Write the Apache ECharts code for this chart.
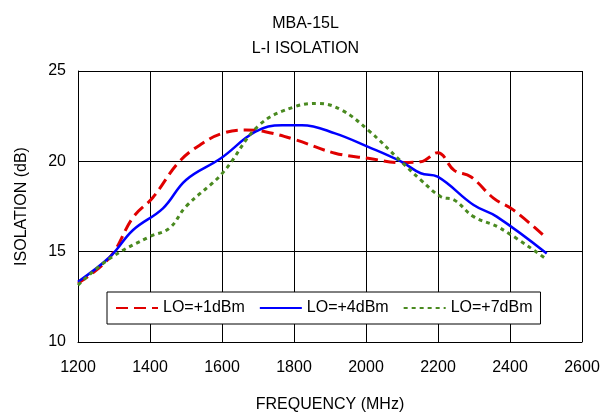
<!DOCTYPE html>
<html><head><meta charset="utf-8">
<script src="https://cdn.jsdelivr.net/npm/echarts@6/dist/echarts.min.js"></script>
<style>html,body{margin:0;padding:0;background:#fff}#c{width:611px;height:418px}</style>
</head><body><div id="c"></div>
<script>
const xTicks=[1200,1400,1600,1800,2000,2200,2400,2600];
const yTicks=[10,15,20,25];
const lo1=[[1200,13.25],[1289,14.7],[1353,16.9],[1408,18.0],[1482,20.0],[1546,21.0],[1601,21.55],[1666,21.73],[1720,21.64],[1803,21.2],[1914,20.45],[2006,20.17],[2098,19.93],[2152,19.98],[2199,20.48],[2245,19.5],[2291,19.15],[2355,17.95],[2410,17.3],[2502,15.74]];
const lo4=[[1200,13.34],[1289,14.72],[1353,16.2],[1436,17.4],[1500,18.97],[1597,20.17],[1693,21.64],[1767,22.0],[1822,22.0],[1914,21.55],[2006,20.8],[2098,19.98],[2152,19.34],[2199,19.15],[2299,17.58],[2363,16.94],[2502,14.9]];
const lo7=[[1200,13.15],[1289,14.63],[1399,15.83],[1454,16.3],[1500,17.5],[1601,19.34],[1703,22.0],[1803,23.03],[1868,23.2],[1932,22.84],[2006,21.73],[2098,19.98],[2152,18.97],[2208,18.04],[2245,17.86],[2299,16.94],[2373,16.3],[2500,14.6]];
const ch=echarts.init(document.getElementById('c'));
const F='Liberation Sans, Arial, sans-serif';
ch.setOption({
 animation:false,
 title:{text:'MBA-15L\nL-I ISOLATION',left:'center',top:6,textStyle:{fontFamily:F,fontSize:16,fontWeight:'normal',color:'#000',lineHeight:25}},
 grid:{left:78,right:29,top:71,bottom:76},
 xAxis:{type:'value',min:1200,max:2600,interval:200,name:'FREQUENCY (MHz)',nameLocation:'middle',nameGap:55,
  nameTextStyle:{fontFamily:F,fontSize:16,color:'#000'},
  axisLine:{lineStyle:{color:'#000'}},axisTick:{show:false},
  axisLabel:{fontFamily:F,fontSize:16,color:'#000',margin:18,formatter:v=>String(v)},
  splitLine:{lineStyle:{color:'#000',width:1}}},
 yAxis:{type:'value',min:10,max:25,interval:5,name:'ISOLATION (dB)',nameLocation:'middle',nameGap:48,
  nameTextStyle:{fontFamily:F,fontSize:16,color:'#000'},
  axisLine:{show:true,lineStyle:{color:'#000'}},axisTick:{show:false},
  axisLabel:{fontFamily:F,fontSize:16,color:'#000',margin:12},
  splitLine:{lineStyle:{color:'#000',width:1}}},
 legend:{left:107,top:292,itemGap:14,padding:[8,8],backgroundColor:'#fff',borderColor:'#000',borderWidth:1,
  itemWidth:42,itemHeight:14,itemStyle:{opacity:0},textStyle:{fontFamily:F,fontSize:16,color:'#000'}},
 series:[
  {name:'LO=+1dBm',type:'line',smooth:0.4,symbol:'none',data:lo1,lineStyle:{color:'#e00000',width:3,type:[12,6]},itemStyle:{color:'#e00000'}},
  {name:'LO=+4dBm',type:'line',smooth:0.4,symbol:'none',data:lo4,lineStyle:{color:'#0000ff',width:2.5},itemStyle:{color:'#0000ff'}},
  {name:'LO=+7dBm',type:'line',smooth:0.4,symbol:'none',data:lo7,lineStyle:{color:'#4a8a20',width:3,type:[4,4]},itemStyle:{color:'#4a8a20'}}
 ]
});
</script></body></html>
